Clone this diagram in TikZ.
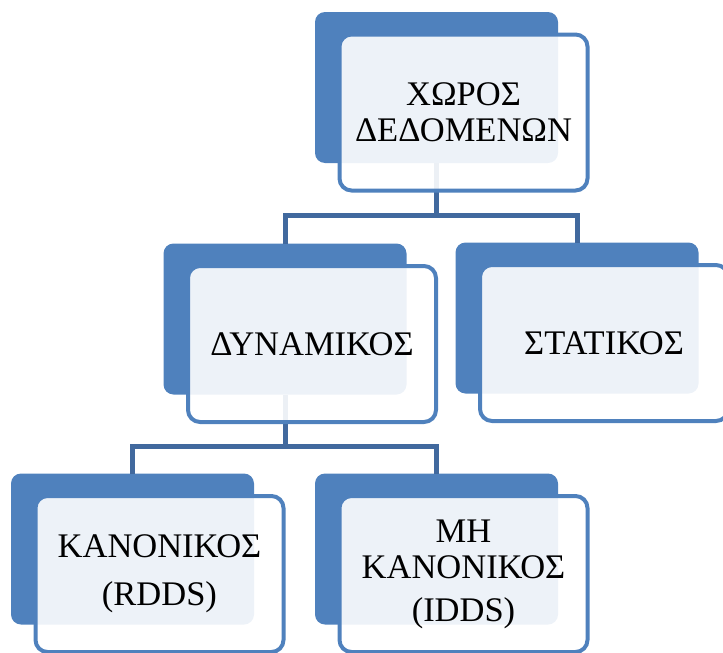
\documentclass[tikz,border=0pt]{standalone}
\usepackage{fontspec}
\setmainfont{Liberation Serif}
\usetikzlibrary{positioning}
\definecolor{smartblue}{HTML}{4F81BD}
\definecolor{linkblue}{HTML}{41699E}

\begin{document}
\begin{tikzpicture}[x=1pt,y=-1pt,
	every node/.style={on grid},
	backbox/.style={fill=smartblue, rounded corners=10pt, minimum width=243pt, minimum height=151pt, inner sep=0pt, outer sep=0pt},
	frontbox/.style={draw=smartblue, line width=4pt, fill=white, fill opacity=0.9, text opacity=1, rounded corners=12pt, minimum width=248pt, minimum height=156pt, inner sep=0pt, align=center, font=\fontsize{34.5}{36}\selectfont},
	link/.style={draw=linkblue, line width=5pt},
	node distance=25pt and 27pt]
	\useasboundingbox (0,0) rectangle (723,653);

	\node[backbox] (chorosB) at (436.5,87.5) {};
	\node[backbox] (dynamikosB) at (285,319) {};
	\node[backbox] (statikosB) at (577,318) {};
	\node[backbox] (kanonikosB) at (132.5,549) {};
	\node[backbox] (mhkanonikosB) at (436.5,549) {};

	\draw[link] (chorosB.south) -- ++(0,52) -| (dynamikosB.north);
	\draw[link] (chorosB.south) -- ++(0,52) -| (statikosB.north);
	\draw[link] (dynamikosB.south) -- ++(0,52) -| (kanonikosB.north);
	\draw[link] (dynamikosB.south) -- ++(0,52) -| (mhkanonikosB.north);

	\node[frontbox, below right=of chorosB] (choros) {ΧΩΡΟΣ\\ΔΕΔΟΜΕΝΩΝ};
	\node[frontbox, below right=of dynamikosB] (dynamikos) {ΔΥΝΑΜΙΚΟΣ};
	\node[frontbox, below right=of statikosB] (statikos) {ΣΤΑΤΙΚΟΣ};
	\node[frontbox, below right=of kanonikosB] (kanonikos) {ΚΑΝΟΝΙΚΟΣ\\[12pt](RDDS)};
	\node[frontbox, below right=of mhkanonikosB] (mhkanonikos) {ΜΗ\\ΚΑΝΟΝΙΚΟΣ\\[7pt](IDDS)};
\end{tikzpicture}
\end{document}
